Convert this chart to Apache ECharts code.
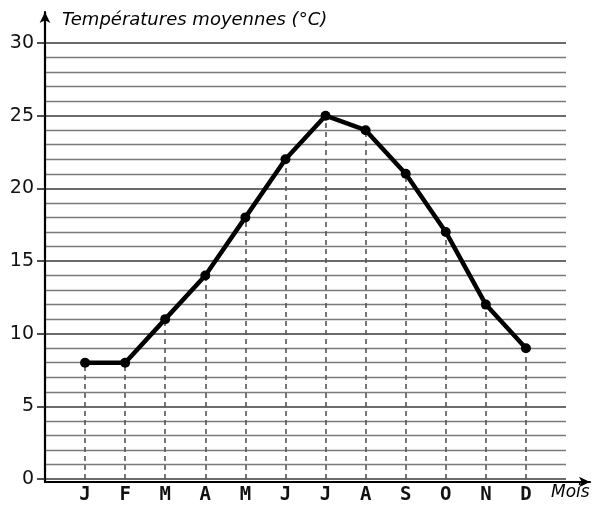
<!DOCTYPE html>
<html>
<head>
<meta charset="utf-8">
<script src="https://cdn.jsdelivr.net/npm/echarts@6/dist/echarts.min.js"></script>
<style>
  html, body { margin: 0; padding: 0; background: #fff; }
  #chart { width: 595px; height: 505px; }
</style>
</head>
<body>
<div id="chart"></div>
<script>
// mois et températures
const months = ['J', 'F', 'M', 'A', 'M', 'J', 'J', 'A', 'S', 'O', 'N', 'D']
const temps = [8, 8, 11, 14, 18, 22, 25, 24, 21, 17, 12, 9]
const yTicks = [0, 5, 10, 15, 20, 25, 30]

const points = temps.map((v, i) => [i + 1, v])

const chart = echarts.init(document.getElementById('chart'))

const option = {
  animation: false,
  backgroundColor: '#fff',
  title: {
    text: 'Températures moyennes (°C)',
    left: 57,
    top: 6,
    textStyle: {
      fontFamily: 'DejaVu Sans',
      fontStyle: 'italic',
      fontWeight: 'normal',
      fontSize: 18,
      color: '#000'
    }
  },
  graphic: [
    {
      type: 'text',
      left: 551,
      top: 484,
      style: {
        text: 'Mois',
        font: 'italic 17px DejaVu Sans',
        fill: '#000'
      }
    }
  ],
  grid: [
    { left: 45, top: 43, width: 521, bottom: 23 },
    { left: 45, top: 12, right: 5, bottom: 23 }
  ],
  xAxis: [
    {
      type: 'value',
      gridIndex: 0,
      min: 0,
      max: 13,
      interval: 1,
      axisLine: { show: false },
      axisTick: { show: false },
      splitLine: { show: false },
      axisLabel: {
        margin: 7,
        fontFamily: 'DejaVu Sans Mono',
        fontWeight: 'bold',
        fontSize: 19,
        color: '#111',
        formatter: v => months[v - 1] || ''
      }
    },
    {
      type: 'value',
      gridIndex: 1,
      min: 0,
      max: 1,
      axisLine: {
        show: true,
        symbol: ['none', 'arrow'],
        symbolSize: [8, 11],
        lineStyle: { color: '#000', width: 2.2 }
      },
      axisTick: { show: false },
      axisLabel: { show: false },
      splitLine: { show: false }
    }
  ],
  yAxis: [
    {
      type: 'value',
      gridIndex: 0,
      min: 0,
      max: 30,
      interval: 5,
      axisLine: { show: false },
      axisTick: {
        show: true,
        length: 8,
        lineStyle: { color: '#222', width: 1.6 }
      },
      axisLabel: {
        margin: 11,
        fontFamily: 'DejaVu Sans',
        fontSize: 19,
        color: '#111',
        formatter: v => (yTicks.includes(v) ? String(v) : '')
      },
      splitLine: {
        show: true,
        lineStyle: { color: '#3a3a3a', width: 1.7 }
      },
      minorTick: { show: false, splitNumber: 5 },
      minorSplitLine: {
        show: true,
        lineStyle: { color: '#7a7a7a', width: 1.3 }
      }
    },
    {
      type: 'value',
      gridIndex: 1,
      min: 0,
      max: 1,
      axisLine: {
        show: true,
        symbol: ['none', 'arrow'],
        symbolSize: [8, 11],
        lineStyle: { color: '#000', width: 2.2 }
      },
      axisTick: { show: false },
      axisLabel: { show: false },
      splitLine: { show: false }
    }
  ],
  series: [
    {
      type: 'line',
      xAxisIndex: 0,
      yAxisIndex: 0,
      data: points,
      symbol: 'circle',
      symbolSize: 10,
      lineStyle: { color: '#000', width: 4.5 },
      itemStyle: { color: '#000' },
      z: 5,
      markLine: {
        silent: true,
        symbol: ['none', 'none'],
        label: { show: false },
        lineStyle: { color: '#555', type: [5, 4], width: 1.6 },
        data: points.map(p => [
          { coord: [p[0], 0] },
          { coord: [p[0], p[1]] }
        ])
      }
    }
  ]
}

chart.setOption(option)
</script>
</body>
</html>
